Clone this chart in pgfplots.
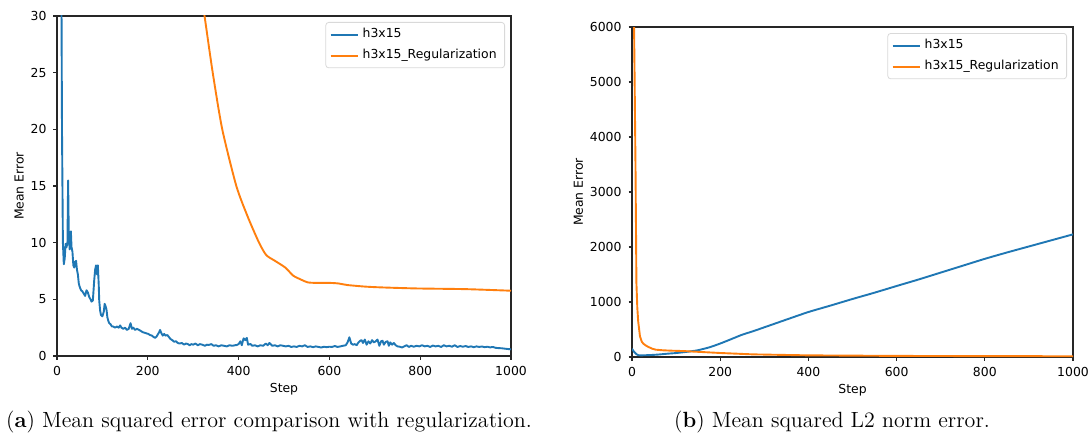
\documentclass[border=0pt]{standalone}
\usepackage{fontspec}
\usepackage{pgfplots}
\pgfplotsset{compat=1.18}
\newfontfamily\dejavu{DejaVu Sans}
\newcommand\mpl{\dejavu\fontsize{6.2pt}{7.4pt}\selectfont}
\definecolor{mblue}{HTML}{1F77B4}
\definecolor{morange}{HTML}{FF7F0E}
\pgfplotsset{mplstyle/.style={
  scale only axis, xmin=0, xmax=1000,
  axis line style={black!85, line width=0.55pt},
  tick style={black!85, line width=0.55pt},
  tick align=outside, xtick pos=bottom, ytick pos=left, major tick length=1.75pt,
  /pgf/number format/assume math mode=true, /pgf/number format/1000 sep={},
  ticklabel style={font=\mpl}, label style={font=\mpl},
  xlabel={Step}, ylabel={Mean Error},
  xlabel style={yshift=3pt}, ylabel style={yshift=-3.5pt},
  xtick={0,200,...,1000},
  legend style={at={(1,1)}, xshift=-3pt, yshift=-3pt, anchor=north east,
    draw=black!15, rounded corners=1.5pt, font=\mpl, inner xsep=2pt, inner ysep=1pt, row sep=0.3pt},
  legend cell align=left,
  legend image code/.code={\draw[##1] (0pt,0pt) -- (13.5pt,0pt);},
  every axis plot/.append style={line width=0.95pt, line join=round},
  scaled y ticks=false,
}}
\begin{document}
\begin{tikzpicture}
\useasboundingbox (0,0) rectangle (545pt,217.5pt);
\begin{axis}[mplstyle, at={(28.5pt,39.5pt)}, anchor=south west, width=227pt, height=170pt,
  ymin=0, ymax=30, ytick={0,5,...,30}]
\addplot[mblue] coordinates {
(0,300) (9,40) (11,20) (13,10) (15,8.1) (17,8.6) (19,9.9) (21,9.6) (23,10.0) (24.5,15.5)
(26,10.5) (28,9.4) (30.6,11.0) (32,9.6) (34,9.2) (36,8.0) (38,7.8) (40,8.3) (42,8.4) (44,7.6)
(46,7.2) (48,6.4) (50,6.1) (53,5.8) (56,5.7) (59,5.5) (62,5.3) (65,5.8) (68,5.6) (71,5.2)
(74,5.0) (76,4.8) (79,4.9) (82,6.7) (84,7.6) (86,8.0) (88,7.2) (90,8.0) (92,6.2) (93,4.9)
(95,4.0) (97,3.6) (100,3.5) (103,3.9) (105,4.6) (107,4.4) (109,4.1) (111,3.4) (113,3.1) (115,2.9)
(118,2.8) (121,2.6) (124,2.6) (128,2.5) (132,2.6) (136,2.5) (139,2.7) (142,2.5) (146,2.4) (150,2.5)
(154,2.3) (158,2.4) (162,2.9) (165,2.4) (168,2.5) (172,2.3) (176,2.4) (181,2.3) (185,2.2) (189,2.1)
(193,2.05) (197,2.0) (201,1.95) (205,1.85) (209,1.8) (212,1.7) (216,1.6) (219,1.7) (222,1.9) (225,2.1)
(227,2.3) (230,2.0) (233,1.8) (236,1.95) (239,1.8) (243,1.85) (246,1.7) (250,1.5) (254,1.4) (258,1.26)
(262,1.3) (266,1.15) (270,1.1) (275,1.15) (280,1.0) (284,1.1) (288,1.06) (292,0.95) (296,1.05) (300,1.0)
(305,1.1) (310,0.95) (315,1.05) (320,1.0) (326,0.9) (330,1.0) (334,0.97) (340,1.05) (345,0.9) (350,0.95)
(356,0.85) (362,0.95) (368,0.9) (374,0.85) (380,0.95) (386,0.9) (392,0.95) (396,0.97) (400,1.05) (404,1.3)
(407,0.95) (411,1.56) (415,1.4) (418,1.6) (421,1.0) (426,1.06) (430,0.9) (436,0.95) (442,0.85) (448,0.95)
(454,0.9) (460,1.1) (464,0.95) (468,1.15) (474,0.9) (480,0.95) (486,0.85) (492,0.95) (498,0.9) (504,0.85)
(510,0.9) (516,0.8) (522,0.85) (528,0.8) (534,0.9) (540,0.85) (546,0.95) (552,0.8) (558,0.85) (564,0.78)
(570,0.85) (576,0.8) (582,0.75) (588,0.82) (594,0.78) (600,0.82) (606,0.8) (612,0.88) (618,0.8) (624,0.85)
(630,0.9) (636,0.95) (640,1.2) (644,1.65) (648,1.1) (652,1.0) (656,1.05) (660,0.95) (664,1.2) (668,1.35)
(671,1.4) (674,1.15) (678,1.45) (682,1.0) (686,1.3) (690,1.1) (694,1.4) (698,1.2) (702,1.3) (706,1.45)
(710,0.9) (714,1.3) (717,1.35) (720,1.0) (724,1.25) (728,1.3) (731,0.9) (734,1.2) (738,1.0) (742,1.15)
(746,0.95) (750,0.85) (755,0.82) (760,0.75) (765,0.85) (770,0.95) (775,0.8) (780,0.9) (786,0.82) (792,0.9)
(798,0.85) (804,0.95) (810,0.85) (816,0.9) (822,0.8) (828,0.92) (834,0.85) (840,0.9) (846,0.8) (852,0.95)
(858,0.85) (864,0.9) (870,0.82) (876,0.95) (882,0.8) (888,0.88) (894,0.82) (900,0.88) (906,0.8) (912,0.85)
(918,0.78) (924,0.85) (930,0.8) (936,0.84) (942,0.78) (948,0.82) (954,0.76) (960,0.8) (966,0.72) (972,0.7)
(980,0.68) (990,0.63) (1000,0.59)
};
\addlegendentry{h3x15}
\addplot[morange, smooth, tension=0.4] coordinates {
(300,37) (325,30) (343,25) (364,20) (395,15) (420,12.3) (445,10) (461,8.9) (480,8.4) (503,7.8)
(520,7.1) (537,6.75) (552,6.5) (570,6.45) (602,6.45) (620,6.4) (640,6.26) (680,6.12) (717,6.05) (793,5.96)
(900,5.9) (1000,5.76)
};
\addlegendentry{h3x15\_Regularization}
\end{axis}
\begin{axis}[mplstyle, at={(316pt,39pt)}, anchor=south west, width=220.5pt, height=165pt,
  ymin=0, ymax=6000, ytick={0,1000,...,6000}]
\addplot[mblue, smooth, tension=0.4] coordinates {
(0,150) (5,90) (10,50) (15,32) (20,30) (40,35) (60,45) (80,60) (101,73) (125,95)
(148,121) (175,175) (199,242) (225,325) (250,406) (275,470) (300,540) (350,680) (400,818) (450,935)
(500,1055) (550,1170) (600,1291) (650,1410) (700,1535) (750,1660) (800,1785) (850,1900) (900,2010) (950,2120)
(1000,2230)
};
\addlegendentry{h3x15}
\addplot[morange] coordinates {
(0,12000) (4,6500) (6,5000) (8,3400) (10,1350) (12,900) (14,650) (18,380) (22,280) (26,240)
(32,205) (38,180) (46,150) (54,133) (70,122) (90,115) (117,108) (148,95) (200,73) (274,48)
(400,30) (600,20) (800,16) (1000,14)
};
\addlegendentry{h3x15\_Regularization}
\end{axis}
\node[font=\fontsize{11pt}{13pt}\selectfont, anchor=base] at (134.5pt,4pt) {(\textbf{a}) Mean squared error comparison with regularization.};
\node[font=\fontsize{11pt}{13pt}\selectfont, anchor=base] at (416pt,4pt) {(\textbf{b}) Mean squared L2 norm error.};
\end{tikzpicture}
\end{document}
